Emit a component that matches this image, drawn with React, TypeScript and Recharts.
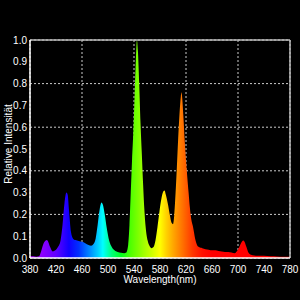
import React from 'react';
import { AreaChart, Area, XAxis, YAxis, CartesianGrid, ReferenceLine, Label } from 'recharts';

// spectrum (nm, relative intensity)
const wavelengths = [
  380, 385, 390, 394, 397, 400, 404, 406, 408, 411, 415, 419, 423, 427, 430, 433, 436, 438, 440, 443,
  446, 450, 455, 460, 465, 470, 474, 478, 481, 484, 487, 490, 492, 495, 498, 501, 505, 510, 515, 520,
  525, 528, 531, 533, 535, 537, 539, 541, 543, 544.5, 546, 548, 550, 552, 554, 556, 558, 561, 564, 567,
  570, 573, 576, 579, 582, 585, 587, 589, 592, 595, 598, 600, 602, 604, 606, 608, 610, 612, 613, 614,
  616, 618, 620, 622, 624, 626, 628, 631, 634, 637, 640, 645, 650, 655, 660, 665, 670, 675, 680, 685,
  690, 695, 698, 702, 705, 708, 710, 713, 716, 720, 725, 730, 740, 750, 760, 770, 780,
];
const intensity = [
  0.008, 0.008, 0.006, 0.008, 0.03, 0.06, 0.08, 0.083, 0.075, 0.05, 0.03, 0.035, 0.05, 0.08, 0.15, 0.25, 0.3, 0.29, 0.22, 0.12,
  0.09, 0.082, 0.078, 0.074, 0.068, 0.06, 0.056, 0.065, 0.09, 0.15, 0.22, 0.255, 0.245, 0.2, 0.14, 0.09, 0.055, 0.035, 0.027, 0.024,
  0.022, 0.025, 0.06, 0.15, 0.3, 0.45, 0.58, 0.75, 0.92, 1.0, 0.95, 0.8, 0.62, 0.48, 0.34, 0.22, 0.14, 0.08, 0.055, 0.045,
  0.05, 0.08, 0.14, 0.21, 0.27, 0.305, 0.31, 0.29, 0.25, 0.2, 0.16, 0.155, 0.2, 0.3, 0.42, 0.55, 0.66, 0.74, 0.76, 0.74,
  0.65, 0.54, 0.45, 0.37, 0.3, 0.23, 0.18, 0.14, 0.09, 0.06, 0.05, 0.045, 0.04, 0.038, 0.035, 0.035, 0.032, 0.03, 0.028, 0.027,
  0.025, 0.022, 0.03, 0.05, 0.07, 0.08, 0.075, 0.05, 0.025, 0.015, 0.012, 0.01, 0.01, 0.008, 0.007, 0.006, 0.006,
];

const xTicks = [380, 420, 460, 500, 540, 580, 620, 660, 700, 740, 780];
const yTicks = [0, 0.1, 0.2, 0.3, 0.4, 0.5, 0.6, 0.7, 0.8, 0.9, 1.0];

// colour of the fill at each wavelength
const stopNm = [380, 400, 420, 440, 455, 470, 485, 492, 505, 520, 535, 555, 570, 580, 590, 600, 615, 630, 645, 660, 780];
const stopColor = [
  '#b000ff', '#8a00ff', '#6000ff', '#1000ff', '#0030ff', '#0080ff', '#00d0ff', '#00ffff', '#00ff80', '#00ff20',
  '#50ff00', '#a0ff00', '#d8ff00', '#ffff00', '#ffd000', '#ffa800', '#ff7000', '#ff3800', '#ff1000', '#ff0000', '#ff0000',
];

const data = wavelengths.map((nm, i) => ({ nm, value: intensity[i] }));

const font = 'Liberation Sans, Arial, sans-serif';

const App: React.FC = () => {
  return (
    <div style={{ position: 'absolute', left: 0, top: 0, width: 300, height: 300, background: '#000' }}>
      <AreaChart width={300} height={300} data={data} margin={{ top: 40, right: 10, bottom: 0, left: 0 }}>
        <defs>
          <linearGradient id="spectrum" x1="0" y1="0" x2="1" y2="0">
            {stopNm.map((nm, i) => (
              <stop key={nm} offset={(nm - 380) / 400} stopColor={stopColor[i]} />
            ))}
          </linearGradient>
        </defs>
        <CartesianGrid stroke="#cccccc" strokeDasharray="2 2" />
        <XAxis
          dataKey="nm"
          type="number"
          domain={[380, 780]}
          ticks={xTicks}
          height={42}
          tickLine={false}
          axisLine={{ stroke: '#fff', strokeWidth: 1.5 }}
          tick={{ fill: '#fff', fontSize: 10, fontFamily: font }}
        >
          <Label value="Wavelength(nm)" position="insideBottom" offset={17} fill="#fff" fontSize={10} fontFamily={font} />
        </XAxis>
        <YAxis
          type="number"
          domain={[0, 1]}
          ticks={yTicks}
          width={30}
          tickLine={false}
          tickSize={0}
          tickMargin={3}
          tickFormatter={(v: number) => v.toFixed(1)}
          axisLine={{ stroke: '#fff', strokeWidth: 1.5 }}
          tick={{ fill: '#fff', fontSize: 10, fontFamily: font }}
        >
          <Label
            content={() => (
              <text
                x={8}
                y={144}
                transform="rotate(-90 8 144)"
                textAnchor="middle"
                dominantBaseline="central"
                fill="#fff"
                fontSize={10}
                fontFamily={font}
              >
                Relative Intensität
              </text>
            )}
          />
        </YAxis>
        <Area
          type="monotone"
          dataKey="value"
          stroke="none"
          fill="url(#spectrum)"
          fillOpacity={1}
          isAnimationActive={false}
        />
        <ReferenceLine y={1} stroke="#bbbbbb" strokeWidth={1.5} />
        <ReferenceLine x={780} stroke="#bbbbbb" strokeWidth={1.5} />
      </AreaChart>
    </div>
  );
};

export default App;
